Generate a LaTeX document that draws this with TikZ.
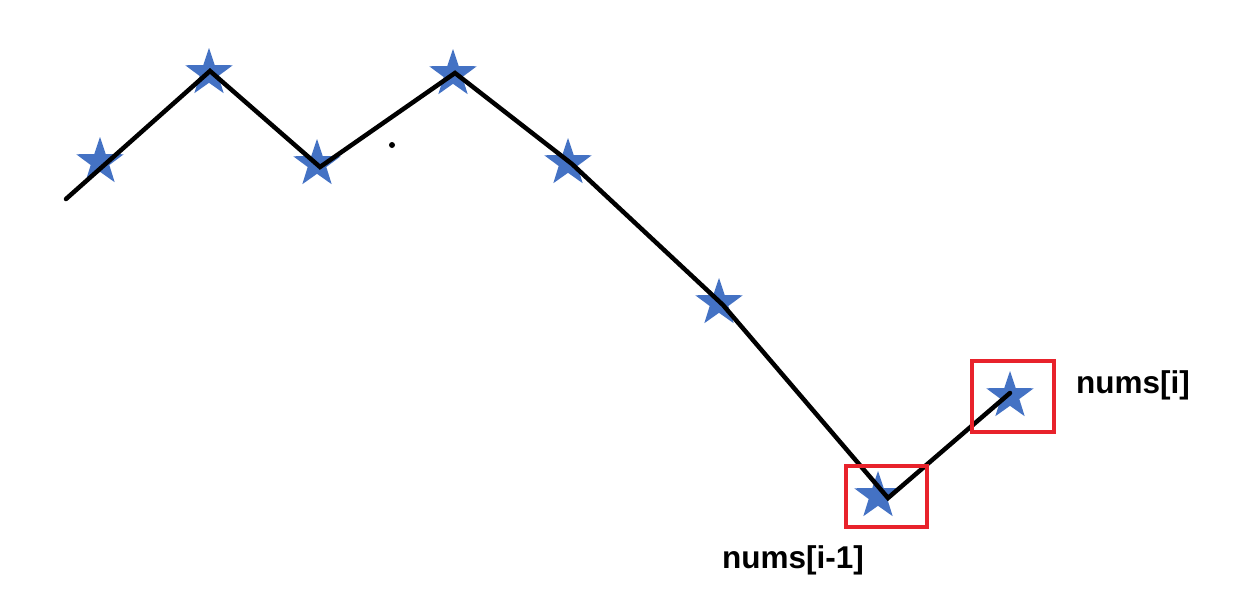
\documentclass[tikz,border=0pt]{standalone}
\usepackage{fontspec}
\setmainfont{Liberation Sans}
\usepackage{tikz}
\usetikzlibrary{shapes.geometric, positioning}
\definecolor{starblue}{HTML}{4472C4}
\definecolor{markred}{HTML}{E8222B}

\begin{document}
\begin{tikzpicture}[
    x=1pt, y=-1pt,
    pt/.style={star, star points=5, star point ratio=2.55, fill=starblue, draw=none, minimum size=50pt, inner sep=0pt},
    curve/.style={line width=4.5pt, black, line join=miter, line cap=round},
    markbox/.style={rectangle, draw=markred, line width=4pt, fill=none, inner sep=0pt},
    lbl/.style={font=\fontsize{31.5}{37}\selectfont\bfseries, inner sep=0pt, anchor=base west}
]
\useasboundingbox (0,0) rectangle (1235,603);

% stars
\node[pt] (s1) at (100,162) {};
\node[pt] (s2) at (209,73) {};
\node[pt] (s3) at (317,164) {};
\node[pt] (s4) at (453,74) {};
\node[pt] (s5) at (568,163) {};
\node[pt] (s6) at (719,303) {};
\node[pt] (s7) at (878,496) {};
\node[pt] (s8) at (1010,396) {};

% vertices of the line
\coordinate (v0) at (66,199);
\coordinate (v1) at (210,71);
\coordinate (v2) at (320,167);
\coordinate (v3) at (455,73);
\coordinate (v4) at (572,164);
\coordinate (v5) at (723,305);
\coordinate (v6) at (888,498);
\coordinate (v7) at (1010,393);

\draw[curve] (v0) -- (v1) -- (v2) -- (v3) -- (v4) -- (v5) -- (v6) -- (v7);

% stray dot
\fill (392,145) circle (3pt);

% marked points
\node[markbox, minimum width=81pt, minimum height=61pt] (prev) at (886.5,496.5) {};
\node[markbox, minimum width=82pt, minimum height=71pt] (cur) at (1013,396.5) {};

\node[lbl] (curlbl) at (1076,393) {nums[i]};
\node[lbl] (prevlbl) at (722,568) {nums[i-1]};
\end{tikzpicture}
\end{document}
